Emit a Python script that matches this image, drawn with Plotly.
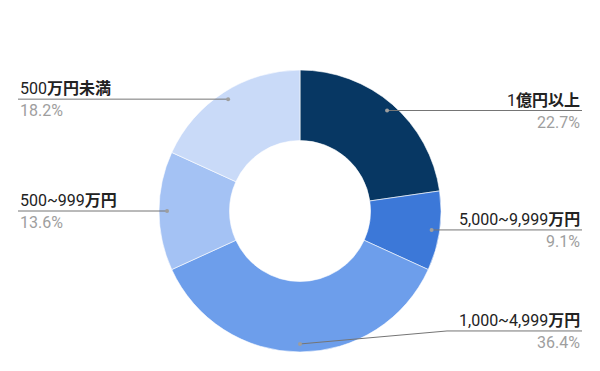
import math
import re
import plotly.graph_objects as go

# ---- data ----
labels = ["1億円以上", "5,000~9,999万円", "1,000~4,999万円", "500~999万円", "500万円未満"]
values = [5, 2, 8, 3, 4]
colors = ["#073763", "#3c78d8", "#6d9eeb", "#a4c2f4", "#c9daf8"]

# ---- layout (pixels) ----
W, H = 600, 371
CX, CY, R = 300, 211, 141
HOLE = 0.5
DOT_R = 0.943          # leader dot radius as fraction of outer radius
RIGHT_X, LEFT_X = 582, 18
ELBOW_RIGHT, ELBOW_LEFT = 447, 153
label_dy = [0, 0, -13, 0, 0]   # vertical nudges of label lines (layout)

FONT = "Roboto, 'Noto Sans CJK JP', Arial, sans-serif"


def px(x):
    return x / W


def py(y):
    return 1 - y / H


def styled(s):
    # CJK glyphs render heavier in the reference (fallback font)
    return re.sub(r"([\u3000-\u9fff]+)", r"<b>\1</b>", s)


fig = go.Figure(go.Pie(
    labels=labels, values=values, sort=False, direction="clockwise", rotation=0,
    hole=HOLE, textinfo="none", hoverinfo="label+percent",
    marker=dict(colors=colors, line=dict(color="#ffffff", width=0.6)),
    domain=dict(x=[0, 1], y=[py(CY + R), py(CY - R)]),
    showlegend=False,
))

shapes, annotations = [], []
total = sum(values)
cum = 0.0
for i, (lab, v) in enumerate(zip(labels, values)):
    mid = (cum + v / 2) / total * 2 * math.pi
    cum += v
    dx = CX + DOT_R * R * math.sin(mid)
    dy = CY - DOT_R * R * math.cos(mid)
    right = math.sin(mid) > -1e-6
    ly = dy + label_dy[i]
    edge = RIGHT_X if right else LEFT_X
    if label_dy[i] != 0:
        ex = ELBOW_RIGHT if right else ELBOW_LEFT
        path = f"M {px(dx)} {py(dy)} L {px(ex)} {py(ly)} L {px(edge)} {py(ly)}"
    else:
        path = f"M {px(dx)} {py(dy)} L {px(edge)} {py(ly)}"
    shapes.append(dict(type="path", xref="paper", yref="paper", path=path,
                       line=dict(color="#757575", width=1)))
    shapes.append(dict(type="circle", xref="paper", yref="paper",
                       x0=px(dx - 2), x1=px(dx + 2), y0=py(dy + 2), y1=py(dy - 2),
                       fillcolor="#9e9e9e", line=dict(width=0)))
    pct = v / total * 100
    anchor = "right" if right else "left"
    annotations.append(dict(xref="paper", yref="paper", x=px(edge), y=py(ly),
                            xanchor=anchor, yanchor="bottom", yshift=-1,
                            text=styled(lab), showarrow=False,
                            font=dict(family=FONT, size=16, color="#222222")))
    annotations.append(dict(xref="paper", yref="paper", x=px(edge), y=py(ly),
                            xanchor=anchor, yanchor="top", yshift=0,
                            text=f"{pct:.1f}%", showarrow=False,
                            font=dict(family=FONT, size=16, color="#9e9e9e")))

fig.update_layout(
    width=W, height=H,
    margin=dict(l=0, r=0, t=0, b=0),
    paper_bgcolor="#ffffff", plot_bgcolor="#ffffff",
    shapes=shapes, annotations=annotations,
)

fig.write_html("out.html", config={"displayModeBar": False},
               post_script="document.body.style.margin='0';document.body.style.overflow='hidden';")
